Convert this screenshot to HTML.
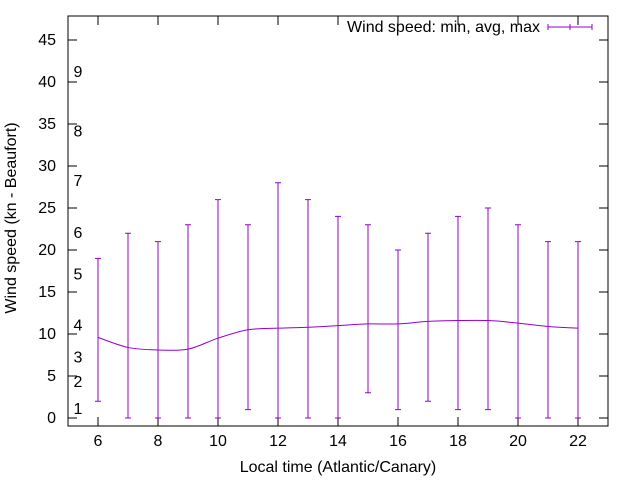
<!DOCTYPE html>
<html><head><meta charset="utf-8"><style>body{margin:0;background:#fff}svg{display:block;font-family:"Liberation Sans",sans-serif}</style></head>
<body>
<svg width="640" height="480" id="c">
<rect width="640" height="480" fill="#fff"/>
<g id="axes"></g>
<g id="marks"></g>
<text x="20" y="222" font-size="16" text-anchor="middle" transform="rotate(-90 16 222)">Wind speed (kn - Beaufort)</text>
<text x="338" y="472" font-size="16" text-anchor="middle">Local time (Atlantic/Canary)</text>
<g>
<text x="540" y="32" font-size="16" text-anchor="end">Wind speed: min, avg, max</text>
<path d="M548 27H592M548 24V30M592 24V30M570 24V30" stroke="#9400d3" fill="none"/>
</g>
</svg>
<script>
const hours=[6,7,8,9,10,11,12,13,14,15,16,17,18,19,20,21,22];
const mins=[2,0,0,0,0,1,0,0,0,3,1,2,1,1,0,0,0];
const avgs=[9.6,8.4,8.1,8.2,9.5,10.5,10.7,10.8,11.0,11.2,11.2,11.5,11.6,11.6,11.3,10.9,10.7];
const maxs=[19,22,21,23,26,23,28,26,24,23,20,22,24,25,23,21,21];
const yTicks=[0,5,10,15,20,25,30,35,40,45];
const xTicks=[6,8,10,12,14,16,18,20,22];
const beaufort=[["1",1.1],["2",4.3],["3",7.2],["4",11],["5",17.1],["6",22],["7",28.2],["8",34.1],["9",41.2]];
const L=68,R=608,T=16,B=426;
const X=v=>L+(v-5)*(R-L)/18;
const Y=v=>418-v*8.4;
const NS="http://www.w3.org/2000/svg";
function mk(p,t,a){const e=document.createElementNS(NS,t);for(const k in a)e.setAttribute(k,a[k]);p.appendChild(e);return e;}
const ax=document.getElementById('axes'),mg=document.getElementById('marks');
let d="";
yTicks.forEach(v=>{d+=`M${L} ${Y(v)}h9M${R} ${Y(v)}h-9`;
const t=mk(ax,'text',{x:56,y:Y(v)+5,'font-size':16,'text-anchor':'end'});


t.textContent=v;});
xTicks.forEach(v=>{d+=`M${X(v)} ${B}v-9M${X(v)} ${T}v9`;
const t=mk(ax,'text',{x:X(v),y:B+20,'font-size':16,'text-anchor':'middle'});


t.textContent=v;});
const tk=mk(ax,'path',{d:d,stroke:'#000',fill:'none'});


const fr=mk(ax,'rect',{x:L,y:T,width:R-L,height:B-T,fill:'none',stroke:'#000'});


beaufort.forEach(b=>{const t=mk(ax,'text',{x:78,y:Y(b[1])+5,'font-size':16,'text-anchor':'middle'});


t.textContent=b[0];});
hours.forEach((h,i)=>{const x=X(h);
const e=mk(mg,'path',{d:`M${x} ${Y(mins[i])}V${Y(maxs[i])}M${x-3} ${Y(mins[i])}h6M${x-3} ${Y(maxs[i])}h6`,stroke:'#9400d3',fill:'none'});

});
const pts=hours.map((h,i)=>[X(h),Y(avgs[i])]);
let p=`M${pts[0][0]} ${pts[0][1]}`;
for(let i=0;i<pts.length-1;i++){const p0=pts[Math.max(i-1,0)],p1=pts[i],p2=pts[i+1],p3=pts[Math.min(i+2,pts.length-1)];
p+=`C${p1[0]+(p2[0]-p0[0])/6} ${p1[1]+(p2[1]-p0[1])/6} ${p2[0]-(p3[0]-p1[0])/6} ${p2[1]-(p3[1]-p1[1])/6} ${p2[0]} ${p2[1]}`;}
const ln=mk(mg,'path',{d:p,stroke:'#9400d3',fill:'none'});


</script>
</body></html>
